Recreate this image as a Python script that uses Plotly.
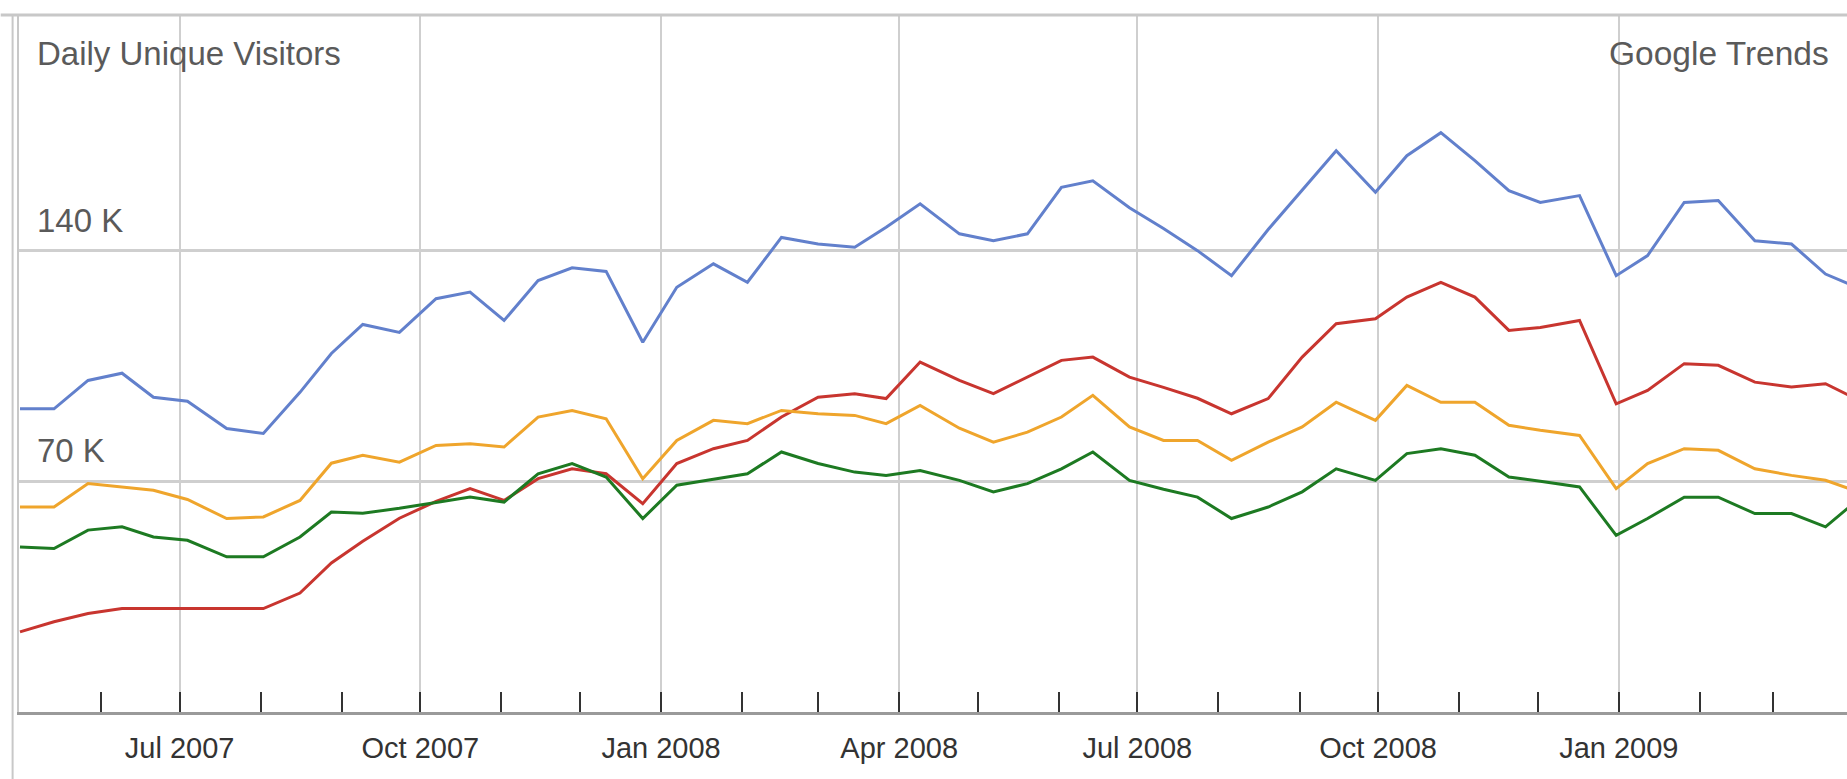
import plotly.graph_objects as go

dates = ["2007-05-01","2007-05-14","2007-05-27","2007-06-09","2007-06-21","2007-07-04","2007-07-19","2007-08-02",
         "2007-08-16","2007-08-28","2007-09-09","2007-09-23","2007-10-07","2007-10-20","2007-11-02","2007-11-15",
         "2007-11-28","2007-12-11","2007-12-25","2008-01-07","2008-01-21","2008-02-03","2008-02-16","2008-03-01",
         "2008-03-15","2008-03-27","2008-04-09","2008-04-24","2008-05-07","2008-05-20","2008-06-02","2008-06-14",
         "2008-06-28","2008-07-11","2008-07-24","2008-08-06","2008-08-20","2008-09-02","2008-09-15","2008-09-30",
         "2008-10-12","2008-10-25","2008-11-07","2008-11-20","2008-12-02","2008-12-17","2008-12-31","2009-01-12",
         "2009-01-26","2009-02-08","2009-02-22","2009-03-08","2009-03-21","2009-04-03"]

blue = [92.0,92.0,100.6,102.8,95.5,94.3,86.0,84.5,97.0,108.8,117.6,115.2,125.4,127.4,118.8,130.9,
        134.8,133.7,112.2,128.9,136.0,130.4,144.0,142.0,141.0,147.1,154.2,145.1,143.0,145.1,159.2,161.2,
        153.0,146.7,140.0,132.4,146.4,158.2,170.3,157.7,168.8,175.8,167.3,158.2,154.6,156.7,132.4,138.5,
        154.6,155.2,143.0,142.0,132.9,128.5]
red = [24.3,27.4,29.9,31.4,31.4,31.4,31.4,31.4,36.1,45.2,51.8,58.8,63.9,67.8,64.2,70.8,
       73.8,72.3,63.2,75.4,79.9,82.4,89.5,95.5,96.6,95.1,106.2,100.6,96.6,101.6,106.7,107.7,
       101.6,98.5,95.2,90.5,95.1,107.7,117.8,119.3,125.9,130.4,125.9,115.8,116.7,118.8,93.5,97.6,
       105.7,105.2,100.1,98.6,99.6,94.5]
orange = [62.2,62.2,69.3,68.3,67.3,64.5,58.7,59.2,64.2,75.5,77.9,75.8,80.9,81.4,80.4,89.5,
          91.5,89.0,70.8,82.4,88.5,87.5,91.5,90.5,90.0,87.5,93.0,86.1,81.9,84.9,89.5,96.1,
          86.5,82.4,82.4,76.4,81.9,86.5,94.0,88.5,99.1,94.0,94.0,87.0,85.5,83.9,67.8,75.4,
          79.9,79.4,73.8,71.8,70.3,66.7]
green = [50.1,49.6,55.2,56.2,53.1,52.1,47.1,47.1,53.1,60.7,60.3,61.8,63.6,65.2,63.7,72.3,
         75.4,71.3,58.7,68.8,70.6,72.3,78.9,75.4,72.8,71.8,73.3,70.3,66.8,69.3,73.8,78.9,
         70.3,67.6,65.2,58.7,62.2,66.8,73.8,70.3,78.4,79.9,77.9,71.3,70.0,68.3,53.6,58.7,
         65.2,65.2,60.2,60.2,56.2,64.8]

series_names = ["Site A", "Site B", "Site C", "Site D"]
series_values = [blue, red, orange, green]
series_colors = ["#6280cc", "#c8352f", "#efa52c", "#1d7a22"]

y_ticks = [70, 140]
y_labels = ["70 K", "140 K"]
chart_label = "Daily Unique Visitors"
source_label = "Google Trends"

FONT = "Liberation Sans, Arial, sans-serif"

fig = go.Figure()
for name, vals, col in zip(series_names, series_values, series_colors):
    fig.add_trace(go.Scatter(x=dates, y=vals, mode="lines", name=name,
                             line=dict(color=col, width=3), showlegend=False))

annotations = []
for v, lab in zip(y_ticks, y_labels):
    annotations.append(dict(x=0, xref="paper", xanchor="left", xshift=16,
                            y=v, yref="y", yanchor="bottom", yshift=10,
                            text=lab, showarrow=False,
                            font=dict(family=FONT, size=33, color="#5a5a5a")))
annotations.append(dict(x=0, xref="paper", xanchor="left", xshift=16,
                        y=1, yref="paper", yanchor="top", yshift=-18,
                        text=chart_label, showarrow=False,
                        font=dict(family=FONT, size=33, color="#5a5a5a")))
annotations.append(dict(x=1, xref="paper", xanchor="right", xshift=-16,
                        y=1, yref="paper", yanchor="top", yshift=-18,
                        text=source_label, showarrow=False,
                        font=dict(family=FONT, size=33.5, color="#5a5a5a")))

shapes = [
    dict(type="line", xref="paper", yref="paper", x0=-0.01, x1=1.01, y0=1, y1=1,
         line=dict(color="#c8c8c8", width=3)),
    dict(type="line", xref="paper", yref="paper", x0=-0.0035, x1=-0.0035, y0=1, y1=-0.1,
         line=dict(color="#c8c8c8", width=2)),
]

fig.update_layout(
    width=1847, height=779,
    margin=dict(l=19, r=0, t=15, b=67),
    paper_bgcolor="white", plot_bgcolor="white",
    annotations=annotations, shapes=shapes,
    xaxis=dict(
        type="date",
        range=["2007-04-30 15:00", "2009-03-29 05:00"],
        tick0="2007-01-01", dtick="M3", tickformat="%b %Y",
        ticks="inside", ticklen=20, tickwidth=2, tickcolor="#333333",
        showgrid=True, gridcolor="#cfcfcf", gridwidth=2,
        showline=True, linecolor="#9a9a9a", linewidth=3,
        tickfont=dict(family=FONT, size=29, color="#333333"),
        ticklabelstandoff=8,
        minor=dict(dtick="M1", tick0="2007-01-01", ticks="inside", ticklen=20,
                   tickwidth=2, tickcolor="#333333", showgrid=False),
        zeroline=False,
    ),
    yaxis=dict(
        range=[0, 211.5],
        tickvals=y_ticks, showticklabels=False,
        showgrid=True, gridcolor="#cfcfcf", gridwidth=3,
        zeroline=False, showline=True, linecolor="#c8c8c8", linewidth=2,
        ticks="",
    ),
)

fig.write_html("out.html", config={"displayModeBar": False},
               post_script="document.body.style.margin='0';")
